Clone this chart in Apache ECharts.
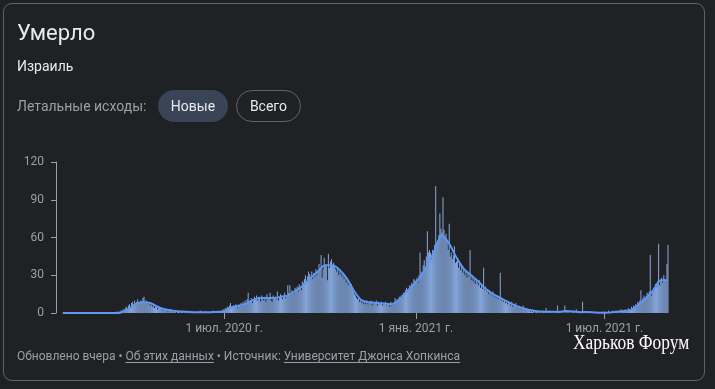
<!DOCTYPE html>
<html>
<head>
<meta charset="utf-8">
<script src="https://cdn.jsdelivr.net/npm/echarts@6/dist/echarts.min.js"></script>
<style>
  html, body { margin:0; padding:0; background:#202124; width:715px; height:389px; overflow:hidden; font-family: Roboto, "Noto Sans", sans-serif; }
  #card { position:absolute; left:3px; top:3px; width:702px; height:378px; box-sizing:border-box; border:1px solid #5f6368; border-radius:9px; }
  #chart { position:absolute; left:0; top:0; width:715px; height:389px; }
  .t { position:absolute; white-space:nowrap; }
  #title { left:17px; top:22px; font-size:22px; line-height:22px; color:#e8eaed; }
  #sub { left:17px; top:59px; font-size:14px; line-height:14px; color:#e8eaed; }
  #row { position:absolute; left:17px; top:90px; height:32px; display:flex; align-items:center; }
  #lbl { font-size:14px; color:#9aa0a6; }
  .pill { position:absolute; top:90px; height:32px; box-sizing:border-box; border-radius:16px; font-size:14px; color:#e8eaed; display:flex; align-items:center; justify-content:center; }
  #p1 { left:158px; width:70px; background:#394457; }
  #p2 { left:236px; width:65px; border:1px solid #5f6368; }
  #foot { left:17px; top:350px; font-size:12px; line-height:12px; color:#9aa0a6; }
  #foot u { text-underline-offset:2px; }
  #wm { left:573px; top:332px; font-family:"Liberation Serif","DejaVu Serif",serif; font-size:20px; line-height:20px; color:#ffffff; transform:scaleX(0.87); transform-origin:0 0; }
</style>
</head>
<body>
<div id="card"></div>
<div id="chart"></div>
<div class="t" id="title">Умерло</div>
<div class="t" id="sub">Израиль</div>
<div id="row"><span id="lbl">Летальные исходы:</span></div>
<div class="pill" id="p1">Новые</div>
<div class="pill" id="p2">Всего</div>
<div class="t" id="foot">Обновлено вчера • <u>Об этих данных</u> • Источник: <u>Университет Джонса Хопкинса</u></div>
<div class="t" id="wm">Харьков Форум</div>
<script>
// Daily new deaths, Israel, Jan 22 2020 .. Aug 31 2021
const startDate = '2020-01-22';
const d2020_01 = [0,0,0,0,0,0,0,0,0,0];
const d2020_02 = [0,0,0,0,0,0,0,0,0,0,0,0,0,0,0,0,0,0,0,0,0,0,0,0,0,0,0,0,0];
const d2020_03 = [0,0,0,0,0,0,0,0,0,0,0,0,0,0,0,0,0,0,0,1,0,0,1,2,1,3,2,4,5,3,6];
const d2020_04 = [7,5,8,9,6,10,8,9,11,7,8,10,9,12,13,8,10,9,7,8,6,7,5,6,4,5,6,3,4,5];
const d2020_05 = [4,3,2,4,3,2,3,1,2,3,2,1,2,1,2,0,1,2,1,0,1,2,0,1,0,1,1,0,1,0,1];
const d2020_06 = [0,1,0,0,1,0,1,2,0,1,0,1,1,0,0,1,0,1,0,2,1,0,1,1,2,1,0,2,1,3];
const d2020_07 = [2,4,3,5,4,6,8,5,4,6,5,7,6,4,7,6,8,5,9,7,10,8,11,16,9,10,12,8,11,13,12];
const d2020_08 = [14,10,13,12,9,14,11,10,13,9,15,11,12,16,10,9,14,12,13,11,17,10,12,15,14,11,13,16,12,14,22];
const d2020_09 = [16,22,14,18,17,15,20,19,21,17,23,20,18,25,24,27,30,25,29,33,31,28,33,27,32,29,35,30,34,39];
const d2020_10 = [36,46,28,35,44,38,37,26,47,36,41,43,38,40,37,35,33,36,30,33,31,29,32,27,30,24,28,22,25,21,23];
const d2020_11 = [19,17,15,14,12,11,12,9,10,8,9,7,9,7,10,7,9,8,10,6,9,7,8,10,6,9,7,8,9,6];
const d2020_12 = [8,7,9,6,8,7,5,9,6,8,7,12,9,11,10,13,11,14,12,16,15,18,20,17,19,22,21,24,23,27,26];
const d2021_01 = [25,28,24,30,48,33,31,38,42,37,45,65,48,50,48,43,50,47,54,101,56,58,62,79,67,64,92,66,60,63,58];
const d2021_02 = [50,71,45,48,43,46,53,40,41,44,36,40,34,38,32,35,30,33,28,31,29,50,26,30,25,27,23,26];
const d2021_03 = [24,22,26,20,23,19,36,18,21,17,19,15,18,16,14,17,13,15,12,14,11,13,32,10,12,9,11,8,10,7,9];
const d2021_04 = [8,6,9,5,7,6,8,5,4,6,5,3,4,6,3,2,4,3,2,3,1,2,1,2,0,1,2,1,0,1];
const d2021_05 = [1,0,2,1,0,4,0,1,2,0,1,0,1,0,0,1,6,0,1,0,1,0,0,6,0,1,0,1,0,0,1];
const d2021_06 = [0,1,0,3,0,1,0,0,1,9,0,1,0,0,1,0,1,0,0,0,1,0,0,0,1,0,0,0,0,1];
const d2021_07 = [1,0,1,0,2,1,0,1,2,1,0,2,1,1,2,0,3,1,2,1,3,2,1,4,3,2,5,4,6,5,7];
const d2021_08 = [6,9,8,10,18,9,12,14,11,13,16,15,17,46,14,18,20,19,23,21,25,55,22,26,28,24,30,27,25,39,54];

// 7-day average line (Jan 28 2020, then every 7 days)
const avgFirstOffset = 6;
const avgStep = 7;
const avgWeekly = [
  0,0,0,0,0,0,0,0,0.4,3,
  7,8.5,8,5,3,2,1.2,1,0.6,0.6,
  0.5,0.8,1.2,4.5,5.5,7,10,12,12,12,
  13,14,18,22,28,33,38,38,34,27,
  17,10,8.5,8,7.5,7,10,16,22,28,
  38,50,62,55,44,35,30,25,19,15,
  12,9,6,4,2.5,1.3,1,1,0.8,1.5,
  1.2,0.6,0.8,0.3,0.1,0.3,1,1.5,2.5,7,
  12,18,26,26
];

const yMin = 0, yMax = 120, yInterval = 30;
const tickDates = ['2020-07-01', '2021-01-01', '2021-07-01'];
const tickLabels = ['1 июл. 2020 г.', '1 янв. 2021 г.', '1 июл. 2021 г.'];

const daily = [].concat(d2020_01, d2020_02, d2020_03, d2020_04, d2020_05, d2020_06,
  d2020_07, d2020_08, d2020_09, d2020_10, d2020_11, d2020_12,
  d2021_01, d2021_02, d2021_03, d2021_04, d2021_05, d2021_06, d2021_07, d2021_08);

const dates = [];
{
  const t0 = Date.parse(startDate + 'T00:00:00Z');
  for (let i = 0; i < daily.length; i++) {
    dates.push(new Date(t0 + i * 86400000).toISOString().slice(0, 10));
  }
}
const avgLine = new Array(daily.length).fill(null);
avgWeekly.forEach((v, k) => { avgLine[avgFirstOffset + k * avgStep] = v; });

const labelMap = {};
tickDates.forEach((d, i) => { labelMap[d] = tickLabels[i]; });
const showTick = (idx, val) => labelMap.hasOwnProperty(val);

const chart = echarts.init(document.getElementById('chart'), null, { renderer: 'canvas' });
chart.setOption({
  animation: false,
  backgroundColor: 'transparent',
  grid: { left: 56, right: 46.5, top: 162, bottom: 76 },
  xAxis: {
    type: 'category',
    data: dates,
    boundaryGap: true,
    axisLine: { show: false },
    axisTick: { show: true, alignWithLabel: true, interval: showTick, length: 6, lineStyle: { color: '#9aa0a6' } },
    axisLabel: { interval: showTick, formatter: v => labelMap[v] || '', color: '#9aa0a6', fontSize: 12, fontFamily: 'Roboto', margin: 10 },
    splitLine: { show: false }
  },
  yAxis: {
    type: 'value', min: yMin, max: yMax, interval: yInterval,
    axisLine: { show: true, lineStyle: { color: '#9aa0a6' } },
    axisTick: { show: true, length: 5, lineStyle: { color: '#9aa0a6' } },
    axisLabel: { color: '#9aa0a6', fontSize: 12, fontFamily: 'Roboto', margin: 12 },
    splitLine: { show: false }
  },
  series: [
    { type: 'bar', data: daily, barWidth: '100%', barCategoryGap: '0%',
      itemStyle: { color: 'rgba(143,181,240,0.88)' }, silent: true },
    { type: 'line', data: avgLine, connectNulls: true, smooth: 0.3, symbol: 'none',
      lineStyle: { color: '#5e97f6', width: 2 }, silent: true }
  ]
});
</script>
</body>
</html>
